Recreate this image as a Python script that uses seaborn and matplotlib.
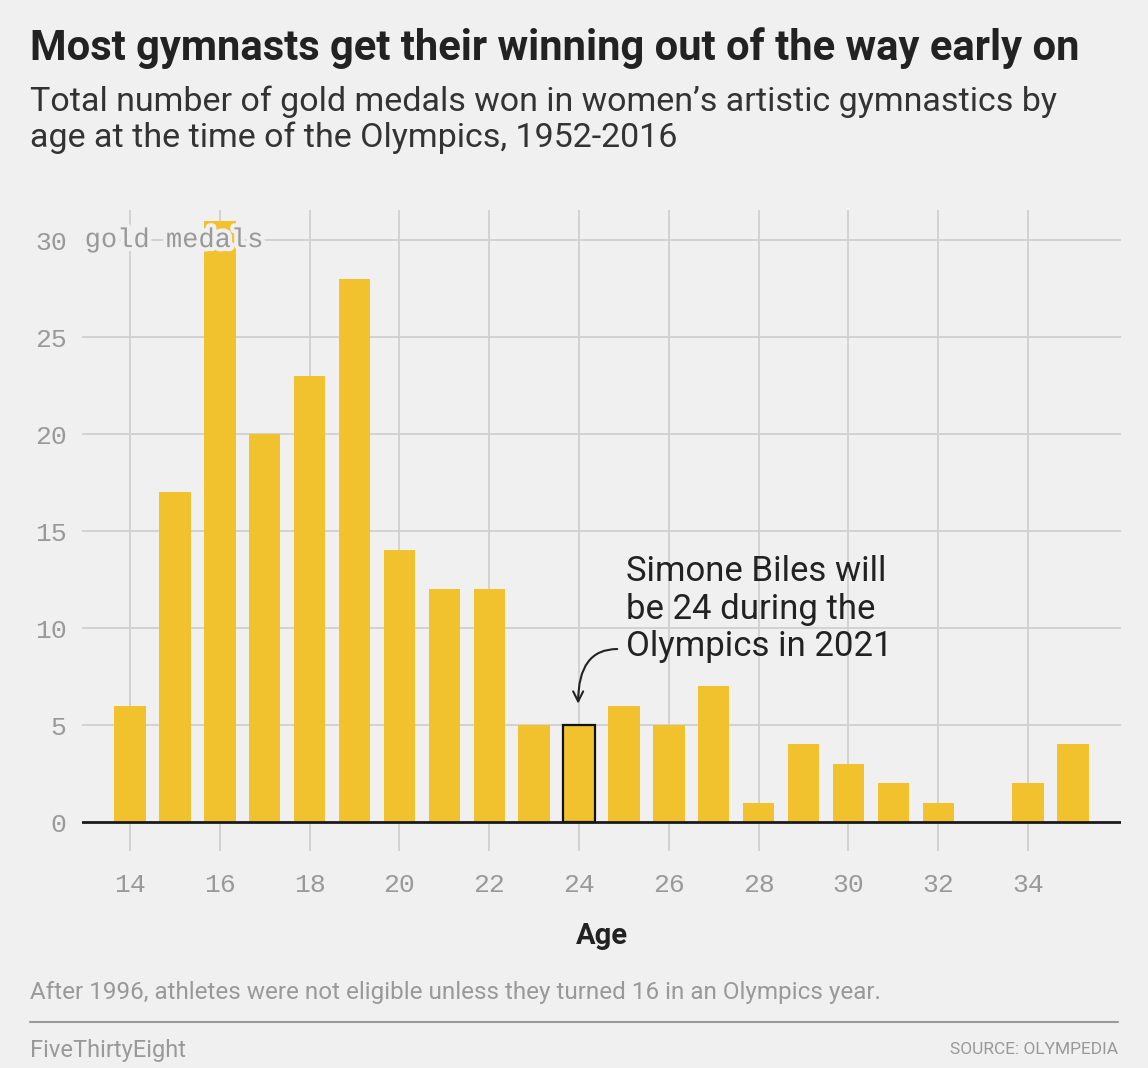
import pandas as pd
import matplotlib
import matplotlib.pyplot as plt
import matplotlib.patheffects as pe
import seaborn as sns

# data
ages = [14, 15, 16, 17, 18, 19, 20, 21, 22, 23, 24, 25, 26, 27, 28, 29, 30, 31, 32, 33, 34, 35]
golds = [6, 17, 31, 20, 23, 28, 14, 12, 12, 5, 5, 6, 5, 7, 1, 4, 3, 2, 1, 0, 2, 4]
y_ticks = [0, 5, 10, 15, 20, 25, 30]
x_ticks = [14, 16, 18, 20, 22, 24, 26, 28, 30, 32, 34]
highlight_age = 24

df = pd.DataFrame({'age': ages, 'golds': golds})

BG = '#f0f0f0'
GOLD = '#f2c12e'
GREY = '#999999'
MONO = 'Liberation Mono'

sns.set_theme(style='white')
plt.rcParams['font.family'] = ['Roboto', 'DejaVu Sans']

fig = plt.figure(figsize=(11.48, 10.68), dpi=100, facecolor=BG)
ax = fig.add_axes([0.0714, 0.2032, 0.9051, 0.6002])
ax.set_facecolor(BG)

sns.barplot(data=df, x='age', y='golds', native_scale=True, color=GOLD,
            saturation=1, width=0.7, linewidth=0, ax=ax, zorder=3)

# outline Simone Biles' age
for p in ax.patches:
    if abs(p.get_x() + p.get_width() / 2 - highlight_age) < 0.1:
        p.set_edgecolor('#111111')
        p.set_linewidth(1.6)

ax.set_xlim(12.93, 36.07)
ax.set_ylim(-1.49, 31.55)

# grid
for y in y_ticks[1:]:
    ax.axhline(y, color='#cfcfcf', lw=1.3, zorder=1)
for x in x_ticks:
    ax.axvline(x, color='#cfcfcf', lw=1.3, zorder=1)
ax.axhline(0, color='#1a1a1a', lw=2, zorder=4)

for s in ax.spines.values():
    s.set_visible(False)
ax.tick_params(length=0)
ax.set_xticks(x_ticks)
ax.set_xticklabels([str(t) for t in x_ticks], family=MONO, fontsize=19, color=GREY)
ax.tick_params(axis='x', pad=16)
ax.set_yticks(y_ticks)
ax.set_yticklabels([str(t) for t in y_ticks], family=MONO, fontsize=19, color=GREY)
ax.tick_params(axis='y', pad=11)
ax.set_xlabel('Age', fontsize=21, fontweight='bold', color='#222222', labelpad=18)
ax.set_ylabel('')

ax.text(12.99, 30, 'gold medals', family=MONO, fontsize=19.5,
        color=GREY, va='center', ha='left', zorder=5,
        path_effects=[pe.withStroke(linewidth=6, foreground=BG)])

# annotation
ax.text(25.05, 8.2, 'Simone Biles will\nbe 24 during the\nOlympics in 2021',
        fontsize=25, color='#222222', va='bottom', ha='left', linespacing=1.17,
        zorder=6)
ax.annotate('', xy=(23.98, 6.1), xytext=(24.85, 8.92),
            arrowprops=dict(arrowstyle='->', color='#222222', lw=1.5,
                            connectionstyle='angle3,angleA=0,angleB=90',
                            mutation_scale=18, shrinkA=0, shrinkB=0),
            zorder=6)

# headings
fig.text(30 / 1148, 1 - 48 / 1068, 'Most gymnasts get their winning out of the way early on',
         fontsize=30.1, fontweight='bold', color='#222222', va='center', ha='left')
fig.text(30 / 1148, 1 - 120 / 1068,
         'Total number of gold medals won in women\u2019s artistic gymnastics by\n'
         'age at the time of the Olympics, 1952-2016',
         fontsize=24.5, color='#333333', va='center', ha='left', linespacing=1.12)

# footnote and footer
fig.text(30 / 1148, 1 - 993 / 1068,
         'After 1996, athletes were not eligible unless they turned 16 in an Olympics year.',
         fontsize=17.5, color=GREY, va='center', ha='left')
fig.add_artist(matplotlib.lines.Line2D([30 / 1148, 1118 / 1148],
                                       [1 - 1022 / 1068, 1 - 1022 / 1068],
                                       color=GREY, lw=1.5, transform=fig.transFigure))
fig.text(30 / 1148, 1 - 1050 / 1068, 'FiveThirtyEight', fontsize=17,
         color=GREY, va='center', ha='left')
fig.text(1118 / 1148, 1 - 1050 / 1068, 'SOURCE: OLYMPEDIA', fontsize=12.5,
         color=GREY, va='center', ha='right')

plt.savefig('out.png', dpi=100, facecolor=BG)
